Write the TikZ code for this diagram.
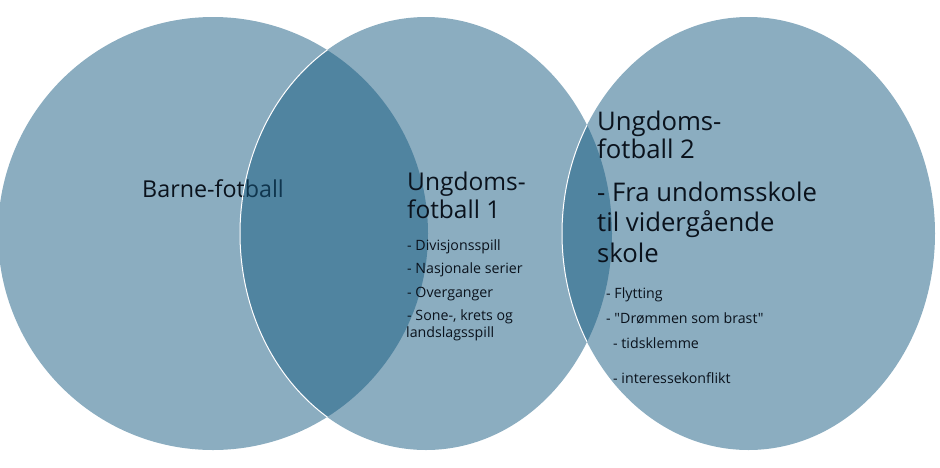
\documentclass[tikz,border=0pt]{standalone}
\usepackage{fontspec}
\setmainfont{Open Sans}[Ligatures=TeXOff]
\usetikzlibrary{positioning}

\definecolor{venn}{RGB}{23,91,129}
\definecolor{ink}{RGB}{10,18,28}

\tikzset{
  bubble/.style={fill=venn, fill opacity=0.5},
  rim/.style={draw=white, line width=1pt},
  headtext/.style={anchor=base west, inner sep=0pt, text=ink, font=\fontsize{24.5pt}{29pt}\selectfont},
  bigtext/.style={headtext, font=\fontsize{25.7pt}{30pt}\selectfont},
  itemtext/.style={anchor=base west, inner sep=0pt, text=ink, font=\fontsize{14.2pt}{17pt}\selectfont}
}

\begin{document}
\begin{tikzpicture}[x=1pt, y=-1pt]
        \useasboundingbox (0,0) rectangle (940,467);

        % Left circle
        \fill[bubble] (213,233.5) ellipse [x radius=215pt, y radius=216.5pt];
        \node[headtext, font=\fontsize{23.3pt}{27pt}\selectfont] (barne) at (142,197) {Barne-fotball};

        % Middle circle
        \fill[bubble] (426,233.5) ellipse [x radius=186pt, y radius=216.5pt];
        \begin{scope}
            \clip (213,233.5) ellipse [x radius=215pt, y radius=216.5pt];
            \draw[rim] (426,233.5) ellipse [x radius=186pt, y radius=216.5pt];
        \end{scope}

        \node[headtext] (ung1a) at (407,190) {Ungdoms-};
        \node[headtext, below=28pt of ung1a.base west, anchor=base west] (ung1b) {fotball 1};

        \node[itemtext] (div) at (407,250) {- Divisjonsspill};
        \node[itemtext, below=23.5pt of div.base west, anchor=base west] (nas) {- Nasjonale serier};
        \node[itemtext, below=23.5pt of nas.base west, anchor=base west] (over) {- Overganger};
        \node[itemtext, below=23.5pt of over.base west, anchor=base west] (sone) {- Sone-, krets og};
        \node[itemtext, below=16.7pt of sone.base west, anchor=base west, xshift=-1pt] (lands) {landslagsspill};

        % Right circle
        \fill[bubble] (748.5,233.5) ellipse [x radius=186.5pt, y radius=216.5pt];
        \begin{scope}
            \clip (426,233.5) ellipse [x radius=186pt, y radius=216.5pt];
            \draw[rim] (748.5,233.5) ellipse [x radius=186.5pt, y radius=216.5pt];
        \end{scope}

        \node[bigtext] (ung2a) at (597,130) {Ungdoms-};
        \node[bigtext, below=28.5pt of ung2a.base west, anchor=base west] (ung2b) {fotball 2};
        \node[bigtext, below=42.5pt of ung2b.base west, anchor=base west] (fra) {- Fra undomsskole};
        \node[bigtext, below=30.5pt of fra.base west, anchor=base west] (til) {til vidergående};
        \node[bigtext, below=30.5pt of til.base west, anchor=base west] (skole) {skole};

        \node[itemtext] (flytt) at (606,298.3) {- Flytting};
        \node[itemtext, below=24.7pt of flytt.base west, anchor=base west] (drom) {- "Drømmen som brast"};
        \node[itemtext, below=25.6pt of drom.base west, anchor=base west, xshift=7pt] (tids) {- tidsklemme};
        \node[itemtext, below=35pt of tids.base west, anchor=base west] (inter) {- interessekonflikt};

    \end{tikzpicture}
\end{document}
